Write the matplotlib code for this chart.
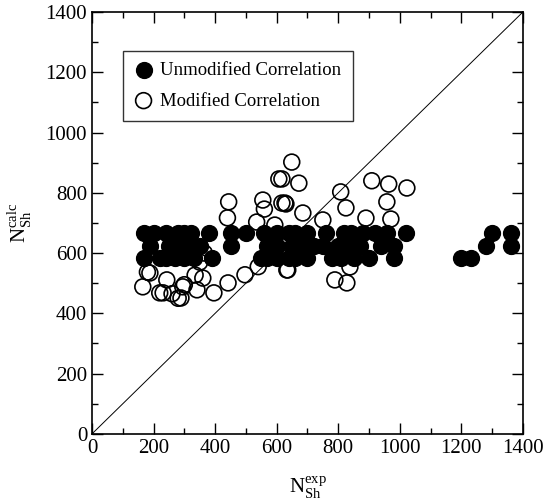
import matplotlib
matplotlib.use('Agg')
import matplotlib.pyplot as plt
from matplotlib.ticker import MultipleLocator

plt.rcParams['font.family'] = ['Liberation Serif', 'DejaVu Serif']
plt.rcParams['mathtext.fontset'] = 'custom'
plt.rcParams['mathtext.rm'] = 'Liberation Serif'

# Unmodified correlation (filled)
unmod_x = [170, 200, 240, 280, 300, 320, 380, 450, 500, 560, 600, 640, 660, 700, 760, 820, 840, 880, 920, 960, 1020, 1300, 1360,
           190, 250, 290, 310, 330, 350, 450, 570, 600, 650, 680, 720, 750, 800, 830, 870, 940, 980, 1280, 1360,
           170, 220, 240, 270, 300, 330, 390, 550, 570, 600, 640, 660, 700, 780, 810, 850, 900, 980, 1200, 1230]
unmod_y = [665] * 23 + [625] * 20 + [585] * 20
unmod_x = unmod_x[:len(unmod_y)]

# Modified correlation (open)
mod_x = [165, 180, 188, 220, 231, 243, 260, 280, 289, 295, 300, 335, 341, 350, 360, 365, 396, 442, 497, 540,
         565, 610, 440, 444, 535, 555, 560, 594, 607, 617, 627, 630, 633, 636, 649, 672, 685, 750, 789, 808,
         825, 828, 838, 890, 909, 958, 964, 971, 1023, 617]
mod_y = [488, 537, 534, 468, 468, 511, 465, 450, 451, 488, 495, 527, 478, 570, 517, 600, 468, 501, 528, 555,
         585, 610, 717, 770, 703, 776, 746, 693, 846, 766, 766, 763, 544, 544, 902, 832, 733, 710, 511, 803,
         750, 501, 554, 716, 840, 770, 829, 713, 816, 846]

fig = plt.figure(figsize=(5.51, 5.01), dpi=100)
ax = fig.add_axes([0.167, 0.134, 0.782, 0.842])

ax.plot([0, 1400], [0, 1400], color='black', lw=0.7, zorder=1)
ax.scatter(unmod_x, unmod_y, s=130, c='black', edgecolors='black', zorder=3,
           label='Unmodified Correlation')
ax.scatter(mod_x, mod_y, s=130, facecolors='none', edgecolors='black', linewidths=1.2,
           zorder=2, label='Modified Correlation')

ax.set_xlim(0, 1400)
ax.set_ylim(0, 1400)
ax.xaxis.set_major_locator(MultipleLocator(200))
ax.yaxis.set_major_locator(MultipleLocator(200))
ax.xaxis.set_minor_locator(MultipleLocator(100))
ax.yaxis.set_minor_locator(MultipleLocator(100))
ax.tick_params(which='both', direction='in', top=True, right=True, labelsize=15, width=1)
ax.tick_params(which='major', length=8)
ax.tick_params(which='minor', length=4)
for s in ax.spines.values():
    s.set_linewidth(1.2)

ax.set_xlabel(r'$\mathrm{N}_{\mathrm{Sh}}^{\mathrm{exp}}$', fontsize=15, labelpad=12)
ax.set_ylabel(r'$\mathrm{N}_{\mathrm{Sh}}^{\mathrm{calc}}$', fontsize=15, labelpad=8)

leg = ax.legend(loc='upper left', bbox_to_anchor=(0.05, 0.93), fontsize=13.5, frameon=True,
                fancybox=False, edgecolor='black', handletextpad=0.4, borderpad=0.6,
                labelspacing=0.7, handlelength=1.0)
leg.get_frame().set_linewidth(1.0)

fig.savefig('out.png', dpi=100)
